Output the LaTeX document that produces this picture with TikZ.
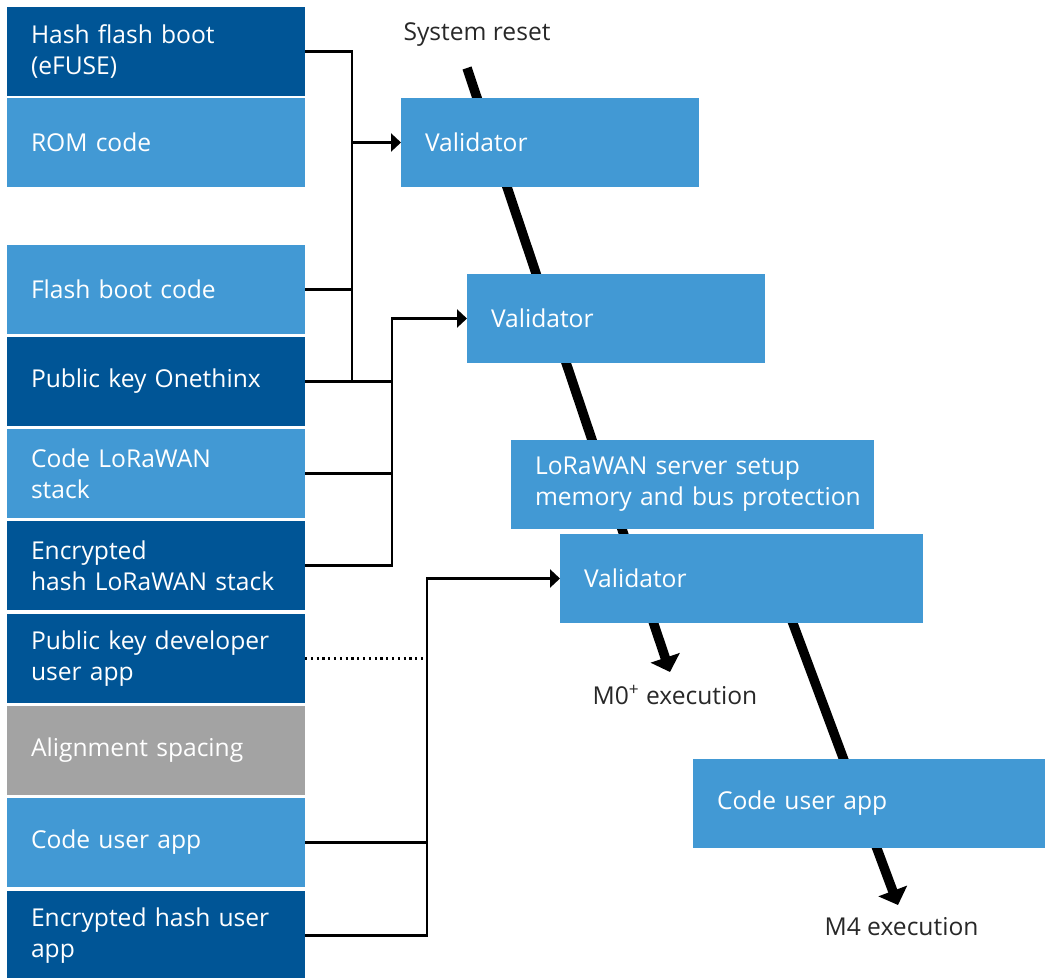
\documentclass[tikz,border=0pt]{standalone}
\usepackage{fontspec}
\setmainfont{Open Sans}
\usepackage{tikz}
\usetikzlibrary{arrows.meta}

\definecolor{darkblue}{RGB}{0,85,150}
\definecolor{lightblue}{RGB}{66,153,212}
\definecolor{spacegray}{RGB}{163,163,163}
\definecolor{labelgray}{RGB}{40,40,40}

\hyphenpenalty=10000

\begin{document}
\begin{tikzpicture}
\tikzset{outer sep=0pt,
  block/.style={anchor=north west, inner xsep=0.48cm, inner ysep=0pt, minimum height=1.78cm,
    text width=5.0cm, align=left, text=white, font=\fontsize{14}{17.6}\selectfont},
  wideblock/.style={block, text width=6.3cm},
  conn/.style={line width=1.3pt},
  feed/.style={conn, -{Triangle[length=0.2cm,width=0.36cm]}},
  flow/.style={line width=5.4pt, -{Triangle[length=0.3cm,width=0.6cm]}},
  caption/.style={text=labelgray, inner sep=0pt, font=\fontsize{14}{17.6}\selectfont}}

\useasboundingbox (0,0) rectangle (20.9,-19.54);

% boot flow, drawn first so the blocks cover it
\coordinate (resettop) at (9.34,-1.36);
\coordinate (m0tip) at (13.40,-13.44);
\coordinate (m4start) at (15.52,-11.56);
\coordinate (m4tip) at (17.96,-18.10);
\draw [flow] (resettop) -- (m0tip);
\draw [flow] (m4start) -- (m4tip);

\node [caption] (reset) at (9.54,-0.70) {System reset};
\node [caption] (m0) at (13.50,-13.90) {M0\textsuperscript{+} execution};
\node [caption] (m4) at (18.03,-18.54) {M4 execution};

% memory map
\node [block, fill=darkblue] (hashboot) at (0.14,-0.14) {Hash flash boot\\(eFUSE)};
\node [block, fill=lightblue] (rom) at (0.14,-1.96) {ROM code};
\node [block, fill=lightblue] (flashboot) at (0.14,-4.90) {Flash boot code};
\node [block, fill=darkblue] (keyonethinx) at (0.14,-6.74) {Public key Onethinx};
\node [block, fill=lightblue] (codelora) at (0.14,-8.58) {Code LoRaWAN\\stack};
\node [block, fill=darkblue] (hashlora) at (0.14,-10.42) {Encrypted\\hash LoRaWAN stack};
\node [block, fill=darkblue] (keydev) at (0.14,-12.28) {Public key developer\\user app};
\node [block, fill=spacegray] (align) at (0.14,-14.12) {Alignment spacing};
\node [block, fill=lightblue] (codeapp) at (0.14,-15.96) {Code user app};
\node [block, fill=darkblue] (hashapp) at (0.14,-17.82) {Encrypted hash user\\app};

% boot stages
\node [block, fill=lightblue] (val1) at (8.02,-1.96) {Validator};
\node [block, fill=lightblue] (val2) at (9.34,-5.48) {Validator};
\node [wideblock, fill=lightblue] (server) at (10.22,-8.80) {LoRaWAN server setup\\\mbox{memory and bus protection}};
\node [wideblock, fill=lightblue] (val3) at (11.20,-10.68) {Validator};
\node [block, text width=6.08cm, fill=lightblue] (runapp) at (13.86,-15.18) {Code user app};

\coordinate (bus1) at (7.04,0);
\coordinate (bus2) at (7.84,0);
\coordinate (bus3) at (8.54,0);

\draw [conn] (hashboot.east) -| (bus1 |- keyonethinx.east) -- (keyonethinx.east);
\draw [conn] (flashboot.east) -- (flashboot.east -| bus1);
\draw [feed] (bus1 |- val1.west) -- (val1.west);

\draw [conn] (keyonethinx.east) -- (keyonethinx.east -| bus2);
\draw [conn] (codelora.east) -- (codelora.east -| bus2);
\draw [feed] (hashlora.east) -| (bus2 |- val2.west) -- (val2.west);

\draw [conn, dotted] (keydev.east) -- (keydev.east -| bus3);
\draw [conn] (codeapp.east) -- (codeapp.east -| bus3);
\draw [feed] (hashapp.east) -| (bus3 |- val3.west) -- (val3.west);

\end{tikzpicture}
\end{document}
